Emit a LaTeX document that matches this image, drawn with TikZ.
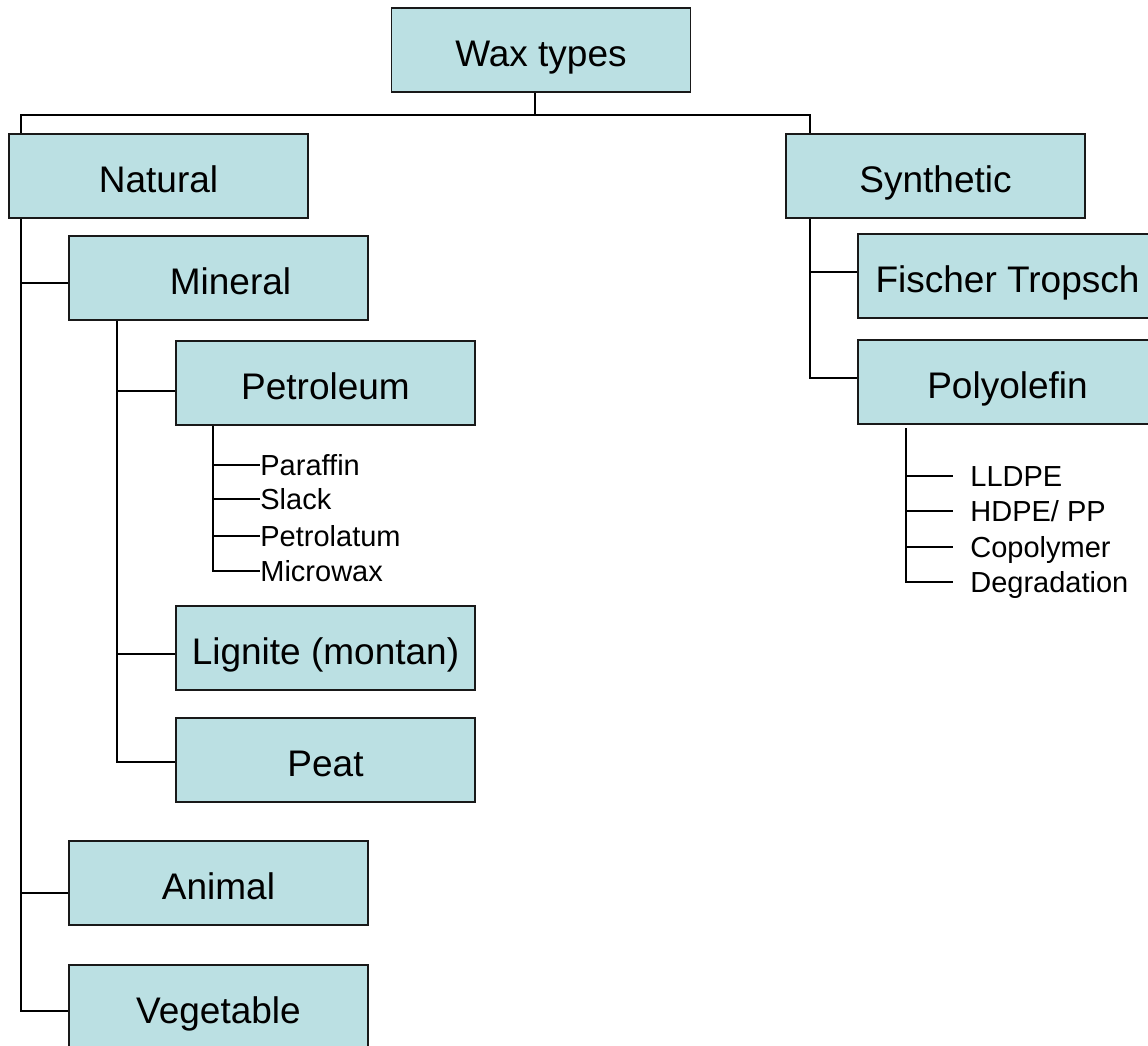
\documentclass[tikz,border=0pt]{standalone}
\usepackage{fontspec}
\setmainfont{Liberation Sans}
\definecolor{waxblue}{HTML}{BBE0E3}

\begin{document}
\begin{tikzpicture}[x=0.5pt,y=-0.5pt,
  box/.style={draw=black!90,fill=waxblue,line width=0.8pt,minimum width=149.5pt,minimum height=42pt,
    inner sep=0pt,font=\fontsize{18.5}{22}\selectfont,text height=16.2pt,text depth=0pt},
  item/.style={anchor=west,inner sep=0pt,font=\fontsize{14.5}{17}\selectfont,text height=10.4pt,text depth=0pt},
  link/.style={line width=0.8pt}]

\useasboundingbox (0,0) rectangle (1148,1046);

% Boxes
\node[box] (wax) at (541,50) {Wax types};
\node[box] (natural) at (158.5,176) {Natural};
\node[box] (synthetic) at (935.5,176) {Synthetic};
\node[box] (mineral) at (218.5,278) {\hspace{12pt}Mineral};
\node[box] (petroleum) at (325.5,383) {Petroleum};
\node[box] (lignite) at (325.5,648) {Lignite (montan)};
\node[box] (peat) at (325.5,760) {Peat};
\node[box] (animal) at (218.5,883) {Animal};
\node[box] (vegetable) at (218.5,1007) {Vegetable};
\node[box] (fischer) at (1007.5,276) {Fischer Tropsch};
\node[box] (polyolefin) at (1007.5,382) {Polyolefin};

% Petroleum grades
\node[item] (paraffin) at (260,465) {Paraffin};
\node[item] (slack) at (260,499) {Slack};
\node[item] (petrolatum) at (260,536) {Petrolatum};
\node[item] (microwax) at (260,571) {Microwax};

% Polyolefin grades
\node[item,inner xsep=8.5pt] (lldpe) at (953,476) {LLDPE};
\node[item,inner xsep=8.5pt] (hdpe) at (953,511) {HDPE/ PP};
\node[item,inner xsep=8.5pt] (copolymer) at (953,547) {Copolymer};
\node[item,inner xsep=8.5pt] (degradation) at (953,582) {Degradation};

% Top split
\coordinate (wax-br) at (535,115);
\coordinate (nat-top) at (21,115);
\coordinate (syn-top) at (810,115);
\draw[link] (wax.south -| wax-br) -- (wax-br);
\draw[link] (natural.north -| nat-top) -- (nat-top) -- (syn-top) -- (synthetic.north -| syn-top);

% Natural
\coordinate (min-br) at (21,283);
\coordinate (ani-br) at (21,893);
\coordinate (veg-br) at (21,1011);
\draw[link] (natural.south -| veg-br) -- (veg-br) -- (veg-br -| vegetable.west);
\draw[link] (min-br) -- (min-br -| mineral.west);
\draw[link] (ani-br) -- (ani-br -| animal.west);

% Mineral
\coordinate (pet-br) at (117,391);
\coordinate (lig-br) at (117,654);
\coordinate (peat-br) at (117,762);
\draw[link] (mineral.south -| peat-br) -- (peat-br) -- (peat-br -| peat.west);
\draw[link] (pet-br) -- (pet-br -| petroleum.west);
\draw[link] (lig-br) -- (lig-br -| lignite.west);

% Petroleum list
\coordinate (pet-list) at (213,425);
\draw[link] (petroleum.south -| pet-list) |- (microwax.west);
\foreach \n in {paraffin,slack,petrolatum}
  \draw[link] (pet-list |- \n.west) -- (\n.west);

% Synthetic
\coordinate (ft-br) at (810,272);
\coordinate (pol-br) at (810,378);
\draw[link] (synthetic.south -| pol-br) -- (pol-br) -- (pol-br -| polyolefin.west);
\draw[link] (ft-br) -- (ft-br -| fischer.west);

% Polyolefin list
\coordinate (pol-list) at (906,428);
\draw[link] (pol-list) |- (degradation.west);
\foreach \n in {lldpe,hdpe,copolymer}
  \draw[link] (pol-list |- \n.west) -- (\n.west);

\end{tikzpicture}
\end{document}
